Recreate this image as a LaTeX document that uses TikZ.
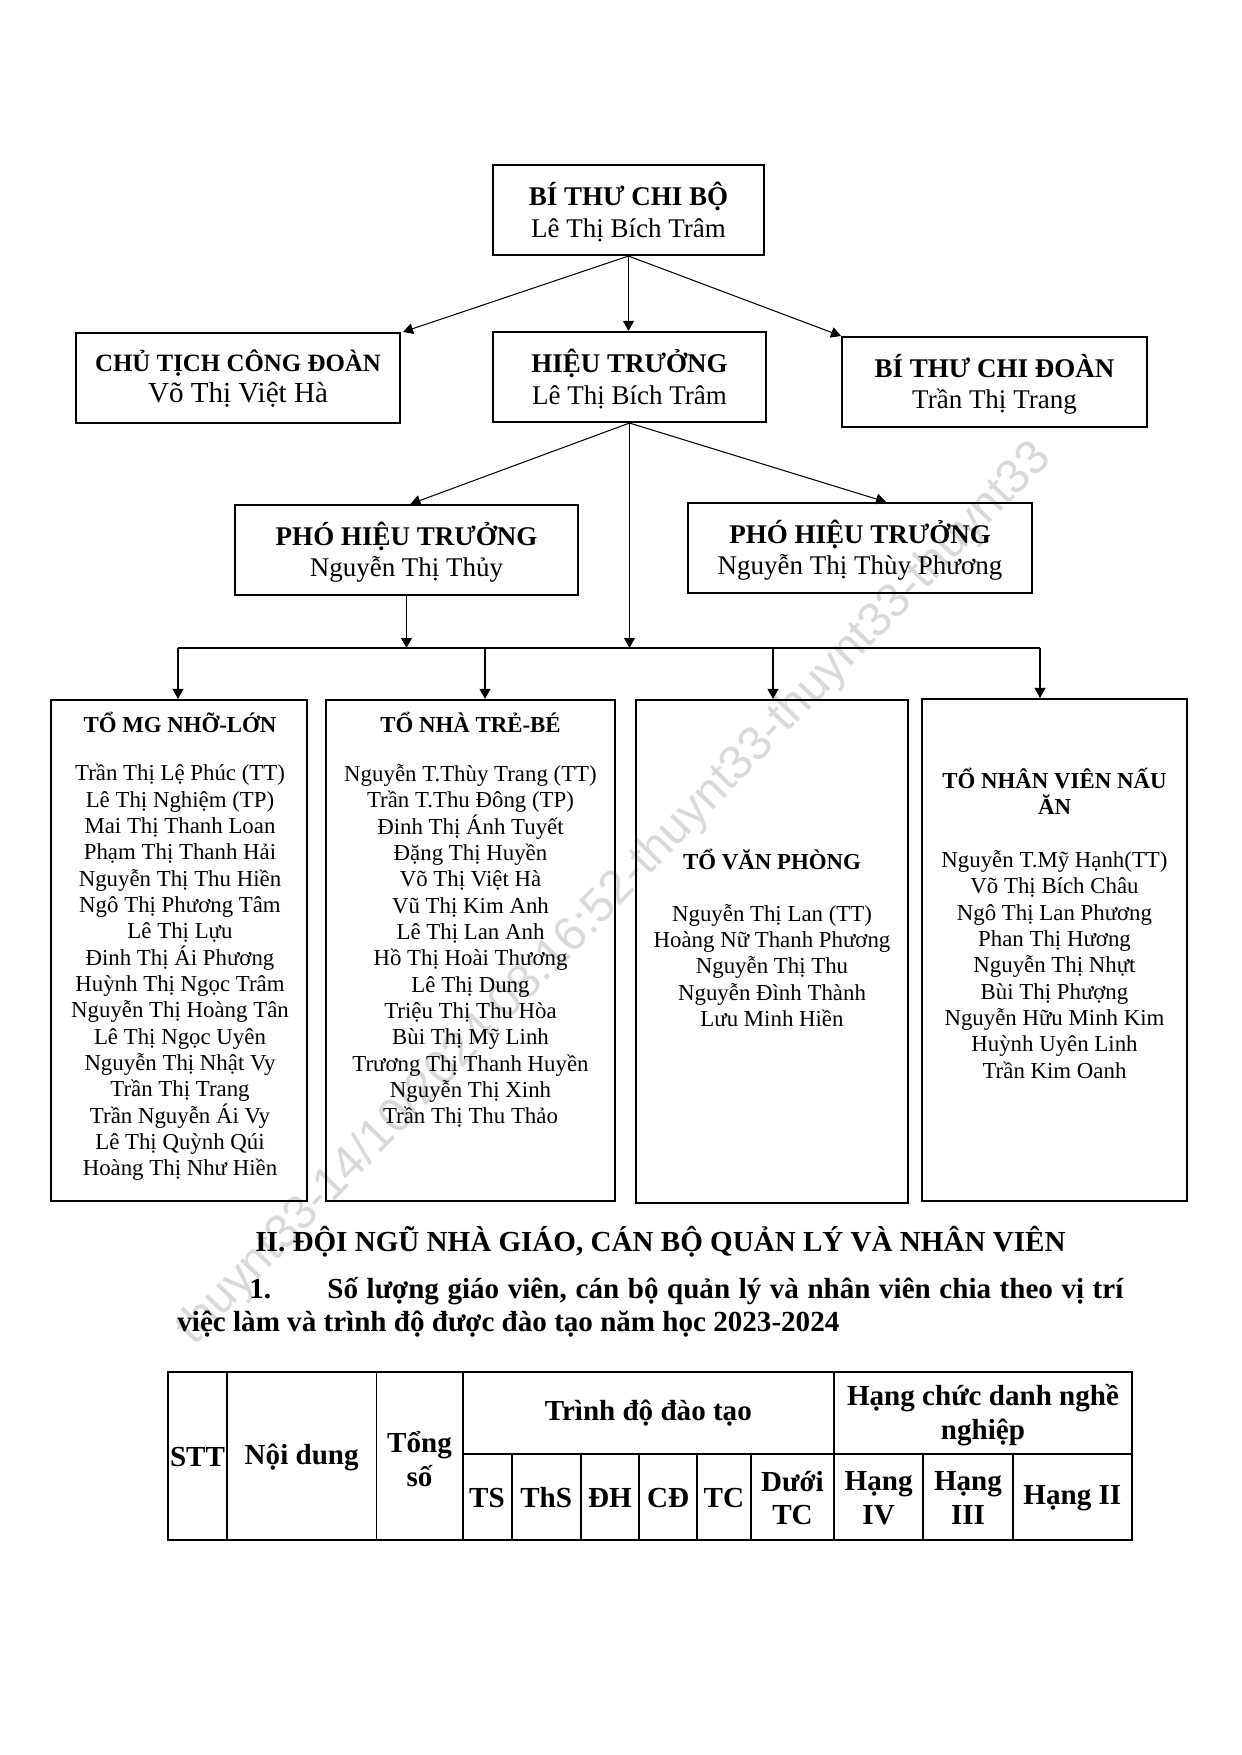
\documentclass[tikz,border=0pt]{standalone}
\usepackage{fontspec}
\setmainfont{Liberation Serif}
\newfontfamily\wmfont{Liberation Sans}
\usetikzlibrary{arrows.meta,calc,fit}
\begin{document}
\begin{tikzpicture}[x=0.16922mm,y=-0.16922mm,
  box/.style={draw,line width=1pt,inner sep=0pt},
  topfont/.style={align=center,inner sep=0pt,font=\fontsize{13}{15}\selectfont},
  arr/.style={line width=0.5pt,-{Triangle[length=4.8pt,width=5.2pt]}},
  plain/.style={line width=0.5pt},
  names/.style={align=center,inner sep=0pt,font=\fontsize{11}{12.67}\selectfont},
  ttl/.style={align=center,inner sep=0pt,font=\fontsize{11}{12.67}\selectfont\bfseries},
  cell/.style={align=center,inner sep=0pt,font=\fontsize{14}{16.3}\selectfont\bfseries},
  tline/.style={line width=0.9pt},
  hd/.style={anchor=base west,inner sep=0pt,font=\fontsize{14}{16.3}\selectfont\bfseries},
  wm/.style={text=black!15,inner sep=0pt,font=\wmfont\fontsize{23}{23}\selectfont}
]
\useasboundingbox (0,0) rectangle (1241,1755);
\fill[white] (0,0) rectangle (1241,1755);

% watermark
\node[wm,rotate=45.95] (wmark) at (614.5,894) {thuynt33-14/10/2024 08:16:52-thuynt33-thuynt33-thuynt33};

% upper boxes
\node[box,fit={(493,165) (764,255)}] (chibo) {};
\node[box,fit={(76,333) (400,423)}] (congdoan) {};
\node[box,fit={(493,332) (766,422)}] (hieutruong) {};
\node[box,fit={(842,337) (1147,427)}] (chidoan) {};
\node[box,fit={(235,505) (578,595)}] (pho1) {};
\node[box,fit={(688,503) (1032,593)}] (pho2) {};

\node[topfont] (chibot) at ($(chibo.center)+(0,2)$) {\textbf{BÍ THƯ CHI BỘ}\\Lê Thị Bích Trâm};
\node[topfont] (congdoant) at ($(congdoan.center)+(0,1)$) {{\fontsize{12}{15}\selectfont\textbf{CHỦ TỊCH CÔNG ĐOÀN}}\\{\fontsize{14}{15}\selectfont Võ Thị Việt Hà}};
\node[topfont] (hieutruongt) at ($(hieutruong.center)+(0,2)$) {\textbf{HIỆU TRƯỞNG}\\Lê Thị Bích Trâm};
\node[topfont] (chidoant) at ($(chidoan.center)+(0,2)$) {\textbf{BÍ THƯ CHI ĐOÀN}\\Trần Thị Trang};
\node[topfont] (pho1t) at ($(pho1.center)+(0,2)$) {\textbf{PHÓ HIỆU TRƯỞNG}\\Nguyễn Thị Thủy};
\node[topfont] (pho2t) at ($(pho2.center)+(0,2)$) {\textbf{PHÓ HIỆU TRƯỞNG}\\Nguyễn Thị Thùy Phương};

% team boxes
\node[box,fit={(51,700) (307,1201)}] (box1) {};
\node[box,fit={(326,700) (615,1201)}] (box2) {};
\node[box,fit={(636,700) (908,1203)}] (box3) {};
\node[box,fit={(922,699) (1187,1201)}] (box4) {};

% connectors
\draw[arr] (chibo.south) -- ($(congdoan.north east)+(2,0)$);
\draw[arr] (chibo.south) -- (chibo.south |- hieutruong.north);
\draw[arr] (chibo.south) -- (chidoan.north west);
\draw[arr] (hieutruong.south) -- ($(pho1.north)+(4,0)$);
\draw[arr] (hieutruong.south) -- ($(pho2.north)+(26,0)$);
\coordinate (busL) at (178,648);
\coordinate (busR) at (1040,648);
\draw[arr] (hieutruong.south) -- (hieutruong.south |- busL);
\draw[arr] (pho1.south) -- (pho1.south |- busL);
\draw[plain] (busL) -- (busR);
\coordinate (d2) at (485,648);
\coordinate (d3) at (773,648);
\draw[arr] (busL) -- (busL |- box1.north);
\draw[arr] (d2) -- (d2 |- box2.north);
\draw[arr] (d3) -- (d3 |- box3.north);
\draw[arr] (busR) -- (busR |- box4.north);

% team texts
\node[ttl] (t1) at (180,722) {TỔ MG NHỠ-LỚN};
\node[names] (n1) at (180,972.5) {Trần Thị Lệ Phúc (TT)\\Lê Thị Nghiệm (TP)\\Mai Thị Thanh Loan\\Phạm Thị Thanh Hải\\Nguyễn Thị Thu Hiền\\Ngô Thị Phương Tâm\\Lê Thị Lựu\\Đinh Thị Ái Phương\\Huỳnh Thị Ngọc Trâm\\Nguyễn Thị Hoàng Tân\\Lê Thị Ngọc Uyên\\Nguyễn Thị Nhật Vy\\Trần Thị Trang\\Trần Nguyễn Ái Vy\\Lê Thị Quỳnh Qúi\\Hoàng Thị Như Hiền};
\node[ttl] (t2) at (470.5,722) {TỔ NHÀ TRẺ-BÉ};
\node[names] (n2) at (470.5,946) {Nguyễn T.Thùy Trang (TT)\\Trần T.Thu Đông (TP)\\Đinh Thị Ánh Tuyết\\Đặng Thị Huyền\\Võ Thị Việt Hà\\Vũ Thị Kim Anh\\Lê Thị Lan Anh\\Hồ Thị Hoài Thương\\Lê Thị Dung\\Triệu Thị Thu Hòa\\Bùi Thị Mỹ Linh\\Trương Thị Thanh Huyền\\Nguyễn Thị Xinh\\Trần Thị Thu Thảo};
\node[ttl] (t3) at (772,859) {TỔ VĂN PHÒNG};
\node[names] (n3) at (772,965.5) {Nguyễn Thị Lan (TT)\\Hoàng Nữ Thanh Phương\\Nguyễn Thị Thu\\Nguyễn Đình Thành\\Lưu Minh Hiền};
\node[ttl] (t4) at (1054.5,791) {TỔ NHÂN VIÊN NẤU\\ĂN};
\node[names] (n4) at (1054.5,964.5) {Nguyễn T.Mỹ Hạnh(TT)\\Võ Thị Bích Châu\\Ngô Thị Lan Phương\\Phan Thị Hương\\Nguyễn Thị Nhựt\\Bùi Thị Phượng\\Nguyễn Hữu Minh Kim\\Huỳnh Uyên Linh\\Trần Kim Oanh};

% heading texts
\node[hd] (h2) at (255,1251) {II. ĐỘI NGŨ NHÀ GIÁO, CÁN BỘ QUẢN LÝ VÀ NHÂN VIÊN};
\node[hd] (p1) at (249,1298) {1.};
\node[hd] (p2) at (327,1298) {\makebox[134.7mm][s]{Số lượng giáo viên, cán bộ quản lý và nhân viên chia theo vị trí}};
\node[hd] (p3) at (177,1331) {việc làm và trình độ được đào tạo năm học 2023-2024};

% table
\draw[tline] (168,1372) rectangle (1132,1540);
\foreach \xx in {227,376.5,462.6,834} \draw[tline] (\xx,1372) -- (\xx,1540);
\draw[tline] (462.6,1454) -- (1132,1454);
\foreach \xx in {511.7,580.7,639.4,696.8,751,923.3,1012.6} \draw[tline] (\xx,1454) -- (\xx,1540);
\node[cell] (c1) at (197.5,1457) {STT};
\node[cell] (c2) at (301.7,1457) {Nội dung};
\node[cell] (c3) at (419.5,1459) {Tổng\\số};
\node[cell] (c4) at (648.3,1413) {Trình độ đào tạo};
\node[cell] (c5) at (983,1415) {Hạng chức danh nghề\\nghiệp};
\node[cell] (c6) at (487,1498) {TS};
\node[cell] (c7) at (546.2,1498) {ThS};
\node[cell] (c8) at (610,1498) {ĐH};
\node[cell] (c9) at (668.1,1498) {CĐ};
\node[cell] (c10) at (723.9,1498) {TC};
\node[cell] (c11) at (792.5,1498) {Dưới\\TC};
\node[cell] (c12) at (878.6,1498) {Hạng\\IV};
\node[cell] (c13) at (968,1498) {Hạng\\III};
\node[cell] (c14) at (1072.3,1498) {Hạng II};
\end{tikzpicture}
\end{document}
